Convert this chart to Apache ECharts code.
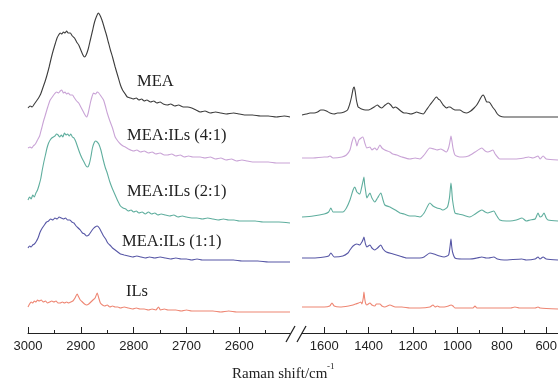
<!DOCTYPE html>
<html>
<head>
<meta charset="utf-8">
<script src="https://cdn.jsdelivr.net/npm/echarts@6/dist/echarts.min.js"></script>
<style>
html,body{margin:0;padding:0;background:#fff;}
#chart{width:558px;height:385px;}
</style>
</head>
<body>
<div id="chart"></div>
<script>
// Raman spectra, [wavenumber (cm-1), offset intensity] — high-wavenumber window (C–H stretch)
const meaHigh = [[3000,226],[2996,228],[2992,227],[2988,230],[2984,233],[2980,236],[2976,240],[2972,246],[2968,252],[2964,259],[2960,267],[2956,276],[2952,284],[2948,291],[2945,296],[2942,299],[2939,301],[2936,300],[2933,302],[2930,301],[2927,303],[2924,301],[2920,301],[2916,298],[2912,296],[2908,292],[2904,289],[2900,284],[2896,279],[2893,277],[2890,279],[2886,285],[2882,294],[2878,303],[2874,312],[2870,318],[2867,321],[2864,319],[2860,314],[2856,307],[2852,300],[2848,292],[2844,284],[2840,277],[2835,267],[2830,258],[2825,249],[2821,244],[2816,240],[2812,237],[2806,236],[2801,235],[2795,236],[2790,234],[2785,235],[2780,233],[2775,234],[2768,232],[2762,233],[2756,231],[2750,232],[2744,230],[2736,229],[2730,230],[2722,228],[2715,229],[2706,227],[2698,227],[2690,226],[2682,224],[2674,222],[2665,223],[2655,221],[2645,222],[2635,221],[2625,220],[2611,221],[2600,220],[2590,219],[2575,219],[2560,218],[2545,218],[2530,217],[2515,218],[2504,217]];
const mix41High = [[3000,186],[2996,187],[2993,186],[2990,188],[2986,190],[2982,194],[2978,198],[2974,206],[2970,214],[2966,221],[2962,228],[2958,234],[2954,237],[2950,240],[2946,242],[2942,241],[2939,243],[2936,244],[2933,241],[2930,242],[2927,240],[2924,241],[2920,239],[2916,239],[2912,236],[2908,233],[2904,231],[2900,227],[2896,223],[2892,219],[2889,217],[2886,221],[2882,231],[2879,237],[2876,241],[2872,240],[2869,242],[2866,241],[2862,238],[2857,234],[2853,227],[2850,221],[2845,213],[2840,206],[2835,197],[2830,193],[2825,190],[2820,188],[2816,187],[2810,185],[2800,183],[2794,184],[2787,182],[2780,183],[2772,181],[2765,182],[2758,180],[2750,181],[2742,179],[2736,179],[2728,180],[2720,178],[2712,179],[2704,177],[2696,178],[2688,177],[2680,177],[2674,177],[2665,176],[2655,177],[2645,175],[2635,176],[2625,174],[2615,175],[2605,173],[2595,174],[2585,173],[2575,172],[2560,172],[2545,172],[2530,171],[2515,171],[2504,171]];
const mix21High = [[3000,134],[2997,137],[2994,135],[2991,139],[2988,137],[2985,141],[2982,144],[2979,149],[2976,155],[2973,164],[2970,172],[2967,179],[2964,186],[2961,191],[2958,194],[2955,196],[2952,197],[2949,198],[2946,200],[2943,199],[2940,197],[2937,199],[2934,197],[2931,201],[2928,199],[2925,200],[2922,198],[2919,200],[2916,197],[2913,196],[2910,193],[2906,187],[2902,181],[2898,176],[2894,172],[2890,168],[2887,167],[2884,170],[2881,177],[2878,186],[2875,191],[2872,193],[2869,192],[2866,190],[2862,184],[2858,175],[2854,167],[2850,161],[2845,152],[2840,145],[2835,139],[2830,133],[2825,128],[2820,126],[2815,125],[2810,123],[2805,124],[2800,122],[2795,123],[2790,121],[2784,122],[2778,120],[2772,122],[2766,120],[2760,121],[2754,119],[2748,120],[2740,119],[2732,118],[2724,119],[2716,117],[2708,118],[2700,117],[2690,116],[2680,116],[2670,115],[2660,116],[2650,115],[2640,114],[2630,115],[2620,114],[2610,114],[2600,113],[2585,113],[2570,113],[2555,112],[2540,112],[2525,112],[2504,111]];
const mix11High = [[3000,86],[2997,88],[2994,87],[2991,89],[2988,90],[2985,92],[2981,96],[2977,102],[2973,106],[2969,109],[2965,112],[2961,113],[2957,115],[2953,114],[2949,116],[2945,115],[2941,117],[2937,116],[2933,115],[2929,116],[2925,114],[2921,114],[2917,112],[2913,111],[2909,108],[2905,106],[2901,104],[2897,101],[2893,100],[2889,98],[2885,99],[2881,102],[2877,105],[2873,107],[2869,108],[2865,106],[2861,102],[2857,98],[2853,95],[2849,91],[2845,89],[2840,86],[2835,84],[2830,82],[2825,80],[2818,79],[2810,78],[2802,77],[2794,78],[2786,77],[2778,76],[2770,77],[2760,76],[2750,77],[2740,76],[2730,75],[2720,76],[2710,75],[2700,75],[2690,74],[2680,75],[2670,74],[2660,74],[2645,74],[2630,74],[2611,74],[2595,73],[2580,73],[2565,73],[2545,72],[2525,72],[2504,72]];
const ilsHigh = [[3000,27],[2997,30],[2994,32],[2991,31],[2988,33],[2985,32],[2982,34],[2979,33],[2975,34],[2971,32],[2967,33],[2963,31],[2959,32],[2955,33],[2951,32],[2947,33],[2943,31],[2939,31],[2935,32],[2931,31],[2927,32],[2923,31],[2919,32],[2915,33],[2911,36],[2907,40],[2904,37],[2901,34],[2897,32],[2893,30],[2889,29],[2885,30],[2881,32],[2877,34],[2873,36],[2869,41],[2866,36],[2863,31],[2859,29],[2855,28],[2850,29],[2845,27],[2840,28],[2835,27],[2830,27],[2825,26],[2818,27],[2810,26],[2802,25],[2795,26],[2788,25],[2780,25],[2772,24],[2765,25],[2758,24],[2753,27],[2749,24],[2742,25],[2735,24],[2728,24],[2720,24],[2710,23],[2700,24],[2690,23],[2680,23],[2665,23],[2650,23],[2635,22],[2620,23],[2605,22],[2590,22],[2575,22],[2560,22],[2540,22],[2520,22],[2504,22]];

// Fingerprint window
const meaLow = [[1700,219],[1680,220],[1664,221],[1645,221],[1630,222],[1615,224],[1604,224],[1590,223],[1574,221],[1555,220],[1540,221],[1529,221],[1510,222],[1495,224],[1485,230],[1477,237],[1470,245],[1465,247],[1460,242],[1455,234],[1450,229],[1447,227],[1440,226],[1432,225],[1415,224],[1400,224],[1390,225],[1375,227],[1361,229],[1350,227],[1341,226],[1325,229],[1312,231],[1300,229],[1289,226],[1280,227],[1271,226],[1255,223],[1240,221],[1229,221],[1210,220],[1195,221],[1184,222],[1170,221],[1154,220],[1140,224],[1124,229],[1110,233],[1100,236],[1094,237],[1086,235],[1079,234],[1070,231],[1064,229],[1049,226],[1040,227],[1034,227],[1020,225],[1011,224],[989,224],[975,222],[958,221],[940,223],[925,226],[913,229],[900,234],[890,238],[883,239],[876,236],[868,232],[860,232],[853,231],[842,227],[831,224],[820,220],[809,218],[790,217],[760,217],[720,217],[680,217],[640,217],[600,217],[570,217],[547,217]];
const mix41Low = [[1700,176],[1650,176],[1600,177],[1585,177],[1574,178],[1560,176],[1520,177],[1500,179],[1484,184],[1475,192],[1466,197],[1458,193],[1453,188],[1444,194],[1426,197],[1417,191],[1408,186],[1394,187],[1385,184],[1372,186],[1363,184],[1349,189],[1340,186],[1327,184],[1304,182],[1291,180],[1273,179],[1250,177],[1214,175],[1190,176],[1169,175],[1150,179],[1124,186],[1106,185],[1092,184],[1075,185],[1065,184],[1050,182],[1040,186],[1034,192],[1029,198],[1024,192],[1020,186],[1011,179],[990,177],[975,177],[950,178],[920,182],[890,186],[875,183],[863,182],[840,184],[830,180],[809,175],[777,175],[740,175],[700,176],[680,177],[660,176],[637,178],[628,175],[614,178],[600,175],[547,174]];
const mix21Low = [[1700,117],[1650,118],[1600,120],[1580,122],[1570,126],[1560,122],[1530,122],[1516,122],[1500,126],[1484,134],[1470,144],[1462,147],[1453,142],[1440,140],[1430,148],[1424,154],[1421,157],[1418,150],[1414,144],[1408,136],[1400,139],[1394,141],[1385,136],[1372,132],[1360,136],[1345,141],[1335,134],[1327,129],[1304,127],[1280,124],[1259,121],[1240,120],[1214,118],[1190,118],[1169,117],[1150,121],[1124,131],[1110,128],[1092,126],[1075,125],[1065,124],[1045,127],[1036,136],[1032,145],[1029,151],[1026,145],[1022,134],[1011,121],[995,120],[975,119],[944,117],[920,120],[900,123],[890,124],[875,122],[863,121],[850,122],[836,123],[825,119],[809,114],[780,113],[763,113],[735,114],[709,116],[690,113],[673,114],[650,115],[637,121],[628,117],[619,118],[610,121],[600,116],[592,114],[547,113]];
const mix11Low = [[1700,76],[1650,76],[1600,77],[1580,78],[1570,81],[1555,77],[1516,78],[1493,81],[1484,84],[1470,88],[1453,90],[1440,89],[1430,92],[1424,95],[1421,97],[1417,93],[1414,90],[1408,87],[1394,89],[1385,86],[1372,84],[1360,86],[1345,89],[1335,85],[1320,82],[1290,80],[1260,78],[1230,76],[1169,76],[1150,77],[1124,81],[1106,80],[1080,78],[1060,77],[1040,79],[1033,88],[1029,95],[1026,88],[1022,82],[1011,76],[980,75],[944,75],[912,76],[890,77],[870,76],[860,76],[836,77],[820,75],[790,74],[710,75],[690,74],[650,75],[637,77],[628,75],[614,77],[600,75],[547,74]];
const ilsLow = [[1700,27],[1600,27],[1575,28],[1565,31],[1555,28],[1529,27],[1490,28],[1470,29],[1458,30],[1445,31],[1435,32],[1430,30],[1424,36],[1421,42],[1418,36],[1414,31],[1408,29],[1394,31],[1385,29],[1372,28],[1365,30],[1349,30],[1340,28],[1327,27],[1304,29],[1280,27],[1250,27],[1214,26],[1169,26],[1124,27],[1110,29],[1100,27],[1090,28],[1080,27],[1060,27],[1040,28],[1029,29],[1020,28],[1011,26],[980,26],[930,26],[921,28],[912,26],[850,26],[760,26],[741,27],[720,26],[650,26],[637,27],[628,26],[547,25]];

// Axis ticks and labels
const highMajor = [3000, 2900, 2800, 2700, 2600];
const highMinor = [2950, 2850, 2750, 2650, 2550];
const lowMajor = [1600, 1400, 1200, 1000, 800, 600];
const lowMinor = [1500, 1300, 1100, 900, 700];

const spectra = [
  { name: 'MEA', color: '#3c3c3c', high: meaHigh, low: meaLow, label: 'MEA', lx: 137, ly: 82 },
  { name: 'MEA:ILs (4:1)', color: '#c9a3d6', high: mix41High, low: mix41Low, label: 'MEA:ILs (4:1)', lx: 127, ly: 136 },
  { name: 'MEA:ILs (2:1)', color: '#5fae9e', high: mix21High, low: mix21Low, label: 'MEA:ILs (2:1)', lx: 127, ly: 192 },
  { name: 'MEA:ILs (1:1)', color: '#5757a6', high: mix11High, low: mix11Low, label: 'MEA:ILs (1:1)', lx: 122, ly: 242 },
  { name: 'ILs', color: '#ee8673', high: ilsHigh, low: ilsLow, label: 'ILs', lx: 126, ly: 292 }
];

const axisColor = '#222';
const sans = '"Liberation Sans", Arial, sans-serif';
const serif = '"Liberation Serif", "Times New Roman", serif';

function majorAxis(grid, min, max, ticks) {
  return {
    gridIndex: grid, type: 'value', inverse: true, min: min, max: max, position: 'bottom',
    axisLine: { show: true, lineStyle: { color: axisColor, width: 1 } },
    axisTick: { show: true, inside: true, length: 6, customValues: ticks, lineStyle: { color: axisColor, width: 1 } },
    axisLabel: { show: true, customValues: ticks, margin: 7, fontSize: 13, fontFamily: sans, color: axisColor,
      formatter: function (v) { return String(Math.round(v)); } },
    splitLine: { show: false }
  };
}
function minorAxis(grid, min, max, ticks) {
  return {
    gridIndex: grid, type: 'value', inverse: true, min: min, max: max, position: 'bottom',
    axisLine: { show: false },
    axisTick: { show: true, inside: true, length: 3, customValues: ticks, lineStyle: { color: axisColor, width: 1 } },
    axisLabel: { show: false },
    splitLine: { show: false }
  };
}

const series = [];
spectra.forEach(function (s) {
  series.push({ name: s.name, type: 'line', xAxisIndex: 0, yAxisIndex: 0, data: s.high, showSymbol: false, smooth: 0.2,
    lineStyle: { color: s.color, width: 1.1 }, silent: true });
  series.push({ name: s.name, type: 'line', xAxisIndex: 2, yAxisIndex: 1, data: s.low, showSymbol: false, smooth: 0.2,
    lineStyle: { color: s.color, width: 1.1 }, silent: true });
});

const graphics = spectra.map(function (s) {
  return { type: 'text', x: s.lx, y: s.ly, style: { text: s.label, font: '16.5px ' + serif, fill: '#222', align: 'left', verticalAlign: 'middle' } };
});
// axis title with superscript
graphics.push({ type: 'text', x: 232, y: 374, style: { text: 'Raman shift/cm', font: '15px ' + serif, fill: '#222', align: 'left', verticalAlign: 'middle' } });
graphics.push({ type: 'text', x: 327, y: 367, style: { text: '-1', font: '9px ' + serif, fill: '#222', align: 'left', verticalAlign: 'middle' } });
// axis break marks
graphics.push({ type: 'line', shape: { x1: 286, y1: 342, x2: 295, y2: 326 }, style: { stroke: axisColor, lineWidth: 1.3 } });
graphics.push({ type: 'line', shape: { x1: 297, y1: 342, x2: 306, y2: 326 }, style: { stroke: axisColor, lineWidth: 1.3 } });

const chart = echarts.init(document.getElementById('chart'), null, { renderer: 'canvas' });
chart.setOption({
  animation: false,
  backgroundColor: '#fff',
  grid: [
    { left: 28, top: 3, width: 262, height: 330, containLabel: false, outerBoundsMode: 'none' },
    { left: 302, top: 3, right: 0, height: 330, containLabel: false, outerBoundsMode: 'none' }
  ],
  xAxis: [
    majorAxis(0, 2504, 3000, highMajor),
    minorAxis(0, 2504, 3000, highMinor),
    majorAxis(1, 547, 1700, lowMajor),
    minorAxis(1, 547, 1700, lowMinor)
  ],
  yAxis: [
    { gridIndex: 0, type: 'value', min: 1, max: 331, show: false },
    { gridIndex: 1, type: 'value', min: 1, max: 331, show: false }
  ],
  series: series,
  graphic: graphics
});
</script>
</body>
</html>
